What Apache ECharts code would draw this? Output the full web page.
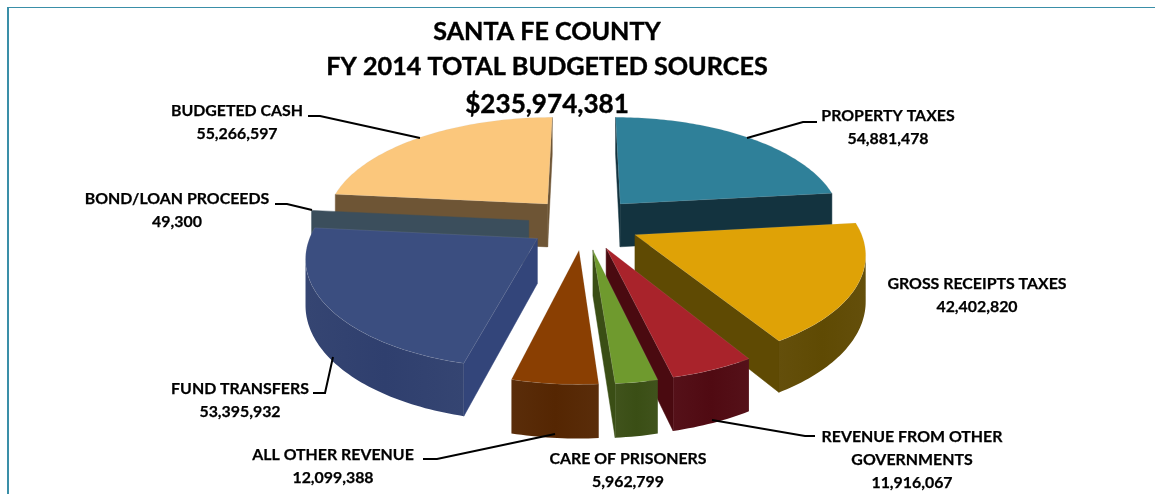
<!DOCTYPE html>
<html>
<head>
<meta charset="utf-8">
<style>html,body{margin:0;padding:0;background:#fff}#c{width:1155px;height:494px}</style>
<script src="https://cdn.jsdelivr.net/npm/echarts@6/dist/echarts.min.js"></script>
</head>
<body>
<div id="c"></div>
<script>
// ---- data ----
const categories = ['PROPERTY TAXES','GROSS RECEIPTS TAXES','REVENUE FROM OTHER GOVERNMENTS','CARE OF PRISONERS','ALL OTHER REVENUE','FUND TRANSFERS','BOND/LOAN PROCEEDS','BUDGETED CASH'];
const values = [54881478,42402820,11916067,5962799,12099388,53395932,49300,55266597];
const titleLines = ['SANTA FE COUNTY','FY 2014 TOTAL BUDGETED SOURCES','$235,974,381'];

// ---- styles and layout ----
const topColors  = ['#2F8099','#DFA206','#A9232B','#6F9A2E','#8A3F02','#3B4E80','#3B4E5C','#FBC77C'];
const wallColors = ['#13333F','#5F4A03','#500A12','#3A4E15','#552602','#2F3F6E','#3B4E5C','#6E5535'];
const cutColors  = ['#13333F','#5F4A03','#4A0A10','#3A4E15','#552602','#33457A','#3B4E5C','#6E5535'];
const labelTexts = ['PROPERTY TAXES','GROSS RECEIPTS TAXES','REVENUE FROM OTHER\nGOVERNMENTS','CARE OF PRISONERS','ALL OTHER REVENUE','FUND TRANSFERS','BOND/LOAN PROCEEDS','BUDGETED CASH'];
const labelCenters = [[888,127],[977,295],[912,460],[628,470],[333,466],[240,400],[177,210],[237,122]];
const leaderLines = [
  [[817,122],[803,122],[747,138]],
  null,
  [[815,436],[805,436],[712,420]],
  null,
  [[423,459],[437,459],[555,434]],
  [[313,393],[325,393],[333,357]],
  [[275,204],[287,204],[312,210]],
  [[308,116],[320,116],[420,138]]
];
const FONT = 'Lato';
const CX = 584, CY = 223, AX = 223, AY = 105, PERSP = 0.15, EXPLODE = 0.25, DEPTH = 44;

const total = values.reduce((a,b)=>a+b,0);
const slices = []; let acc = 0;
values.forEach(v=>{ const a0 = acc/total*2*Math.PI; acc += v; slices.push({a0, a1: acc/total*2*Math.PI}); });

function project(X,Y,drop){
  const w = 1/(1+PERSP*Y);
  return [CX + AX*X*w, CY - AY*Y*w + (drop?DEPTH*w:0)];
}
function lighten(hex,t){
  const n=parseInt(hex.slice(1),16), c=[n>>16,(n>>8)&255,n&255].map(v=>Math.round(v+(255-v)*t));
  return 'rgb('+c.join(',')+')';
}
// painter order: far slices first
const depthRank = slices.map((s,i)=>[Math.cos((s.a0+s.a1)/2),i]).sort((a,b)=>b[0]-a[0]).reduce((m,e,r)=>{m[e[1]]=r;return m;},{});

function renderSlice(params, api){
  const i = params.dataIndex, s = slices[i];
  const mid = (s.a0+s.a1)/2, ox = EXPLODE*Math.sin(mid), oy = EXPLODE*Math.cos(mid);
  const steps = Math.max(2, Math.ceil((s.a1-s.a0)/0.02));
  const arcW = [];
  for(let k=0;k<=steps;k++){ const t = s.a0+(s.a1-s.a0)*k/steps; arcW.push([ox+Math.sin(t), oy+Math.cos(t)]); }
  const top = arcW.map(p=>project(p[0],p[1],false));
  const bot = arcW.map(p=>project(p[0],p[1],true));
  const apexT = project(ox,oy,false), apexB = project(ox,oy,true);
  const children = []; const base = depthRank[i]*10;
  const poly = (pts,fill,z,stroke)=>children.push({type:'polygon',z2:base+z,shape:{points:pts},style:{fill,stroke:stroke||(typeof fill==='string'?fill:null),lineWidth:0.5}});
  const cut = cutColors[i], wall = wallColors[i];
  // apex -> arc start
  if(top[0][0] < apexT[0]) poly([apexT,top[0],bot[0],apexB],cut,1);
  // arc end -> apex
  const last = top.length-1;
  if(apexT[0] < top[last][0]) poly([top[last],apexT,apexB,bot[last]],cut,1);
  // outer wall, only the run of the arc that faces the viewer
  let f=[],b=[];
  for(let k=0;k<last;k++){ if(top[k+1][0]<top[k][0]){ if(!f.length){f.push(top[k]);b.push(bot[k]);} f.push(top[k+1]); b.push(bot[k+1]); } }
  if(f.length){
    const grad = new echarts.graphic.LinearGradient(0,0,1,0,[
      {offset:0,color:lighten(wall,0.03)},{offset:0.5,color:wall},{offset:1,color:lighten(wall,0.03)}]);
    poly(f.concat(b.reverse()),grad,2);
  }
  if(s.a1-s.a0>0.01) poly([apexT].concat(top),topColors[i],3,'rgba(190,190,190,0.25)');
  return {type:'group',children};
}

const graphics = [
  {type:'rect',silent:true,shape:{x:7,y:7,width:2,height:487},style:{fill:'#3A8FA8'}},
  {type:'rect',silent:true,shape:{x:7,y:7,width:1148,height:1},style:{fill:'#3A8FA8'}}
];
leaderLines.forEach(l=>{ if(l) graphics.push({type:'polyline',silent:true,z:5,shape:{points:l},style:{stroke:'#000',lineWidth:2,fill:null}}); });
categories.forEach((c,i)=>{
  graphics.push({type:'text',silent:true,z:6,x:labelCenters[i][0],y:labelCenters[i][1],
    style:{text:labelTexts[i]+'\n'+values[i].toLocaleString('en-US'),fill:'#000',stroke:'#000',lineWidth:0.25,align:'center',verticalAlign:'middle',
           font:'bold 15.9px '+FONT,lineHeight:23}});
});
const titleY=[32,67,105], titleSize=[25.1,25.2,26.1];
titleLines.forEach((t,i)=>graphics.push({type:'text',silent:true,z:6,x:547,y:titleY[i],
  style:{text:t,fill:'#000',stroke:'#000',lineWidth:0.4,align:'center',verticalAlign:'middle',font:'bold '+titleSize[i]+'px '+FONT}}));

const chart = echarts.init(document.getElementById('c'),null,{renderer:'canvas'});
chart.setOption({
  animation:false,
  backgroundColor:'#fff',
  graphic:graphics,
  series:[{type:'custom',coordinateSystem:'none',renderItem:renderSlice,silent:true,
    data:values.map((v,i)=>({name:categories[i],value:[v]}))}]
});
</script>
</body>
</html>
